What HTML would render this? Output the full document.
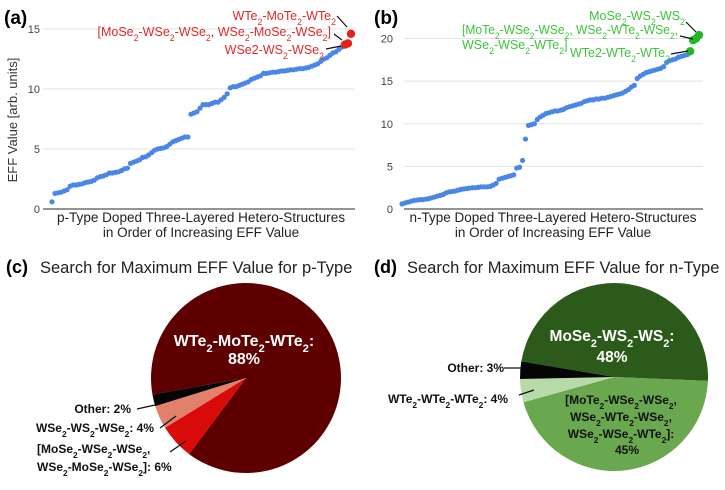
<!DOCTYPE html>
<html><head><meta charset="utf-8">
<style>
body{margin:0;background:#fff;}
svg{display:block;font-family:"Liberation Sans",Arial,sans-serif;}
.s{font-size:70%;}
.lab{font-weight:bold;font-size:12px;fill:#111;}
.tick{font-size:11px;fill:#444;}
</style></head>
<body>
<svg id="fig" width="725" height="490" viewBox="0 0 725 490">
  <!-- Panel a -->
  <g id="pa">
    <text x="4" y="24" font-size="19" font-weight="bold">(a)</text>
    <g id="pa-grid"></g>
    <text transform="translate(17,120) rotate(-90)" text-anchor="middle" font-size="13" fill="#333">EFF Value [arb. units]</text>
    <text x="201" y="222" text-anchor="middle" font-size="13.5" fill="#222" textLength="288" lengthAdjust="spacingAndGlyphs">p-Type Doped Three-Layered Hetero-Structures</text>
    <text x="201" y="237" text-anchor="middle" font-size="13.5" fill="#222">in Order of Increasing EFF Value</text>
    <g id="pa-pts"></g>
    <g fill="#e02828" font-size="12.5">
      <text x="336" y="20" text-anchor="end">WTe<tspan class="s" baseline-shift="sub">2</tspan>-MoTe<tspan class="s" baseline-shift="sub">2</tspan>-WTe<tspan class="s" baseline-shift="sub">2</tspan></text>
      <text x="331" y="36" text-anchor="end">[MoSe<tspan class="s" baseline-shift="sub">2</tspan>-WSe<tspan class="s" baseline-shift="sub">2</tspan>-WSe<tspan class="s" baseline-shift="sub">2</tspan>, WSe<tspan class="s" baseline-shift="sub">2</tspan>-MoSe<tspan class="s" baseline-shift="sub">2</tspan>-WSe<tspan class="s" baseline-shift="sub">2</tspan>]</text>
      <text x="324" y="54" text-anchor="end">WSe2-WS<tspan class="s" baseline-shift="sub">2</tspan>-WSe<tspan class="s" baseline-shift="sub">2</tspan></text>
    </g>
    <g stroke="#111" stroke-width="1.2">
      <line x1="337" y1="16" x2="347" y2="27"/>
      <line x1="334" y1="34" x2="342" y2="40"/>
      <line x1="326" y1="49" x2="341" y2="46"/>
    </g>
  </g>
  <!-- Panel b -->
  <g id="pb">
    <text x="374" y="24" font-size="19" font-weight="bold">(b)</text>
    <g id="pb-grid"></g>
    <text x="553" y="222" text-anchor="middle" font-size="13.5" fill="#222" textLength="287" lengthAdjust="spacingAndGlyphs">n-Type Doped Three-Layered Hetero-Structures</text>
    <text x="553" y="237" text-anchor="middle" font-size="13.5" fill="#222">in Order of Increasing EFF Value</text>
    <g id="pb-pts"></g>
    <g fill="#3cc43c" font-size="12.5">
      <text x="685" y="20" text-anchor="end">MoSe<tspan class="s" baseline-shift="sub">2</tspan>-WS<tspan class="s" baseline-shift="sub">2</tspan>-WS<tspan class="s" baseline-shift="sub">2</tspan></text>
      <text x="462" y="34" textLength="216" lengthAdjust="spacingAndGlyphs">[MoTe<tspan class="s" baseline-shift="sub">2</tspan>-WSe<tspan class="s" baseline-shift="sub">2</tspan>-WSe<tspan class="s" baseline-shift="sub">2</tspan>, WSe<tspan class="s" baseline-shift="sub">2</tspan>-WTe<tspan class="s" baseline-shift="sub">2</tspan>-WSe<tspan class="s" baseline-shift="sub">2</tspan>,</text>
      <text x="462" y="49">WSe<tspan class="s" baseline-shift="sub">2</tspan>-WSe<tspan class="s" baseline-shift="sub">2</tspan>-WTe<tspan class="s" baseline-shift="sub">2</tspan>]</text>
      <text x="670" y="57" text-anchor="end">WTe2-WTe<tspan class="s" baseline-shift="sub">2</tspan>-WTe<tspan class="s" baseline-shift="sub">2</tspan></text>
    </g>
    <g stroke="#111" stroke-width="1.2">
      <line x1="686" y1="22" x2="696" y2="32"/>
      <line x1="680" y1="36" x2="693" y2="39"/>
      <line x1="671" y1="54" x2="688" y2="51"/>
    </g>
  </g>
  <!-- Panel c -->
  <g id="pc">
    <text x="6" y="273" font-size="18" font-weight="bold">(c)</text>
    <text x="40" y="273" font-size="16.5" fill="#222">Search for Maximum EFF Value for p-Type</text>
    <g id="pc-slices"></g>
    <g fill="#fff" font-weight="bold" font-size="16" text-anchor="middle">
      <text x="244" y="346">WTe<tspan class="s" baseline-shift="sub">2</tspan>-MoTe<tspan class="s" baseline-shift="sub">2</tspan>-WTe<tspan class="s" baseline-shift="sub">2</tspan>:</text>
      <text x="244" y="364">88%</text>
    </g>
    <text class="lab" x="131" y="413" text-anchor="end">Other: 2%</text>
    <text class="lab" x="154" y="432" text-anchor="end">WSe<tspan class="s" baseline-shift="sub">2</tspan>-WS<tspan class="s" baseline-shift="sub">2</tspan>-WSe<tspan class="s" baseline-shift="sub">2</tspan>:  4%</text>
    <text class="lab" x="37" y="453">[MoSe<tspan class="s" baseline-shift="sub">2</tspan>-WSe<tspan class="s" baseline-shift="sub">2</tspan>-WSe<tspan class="s" baseline-shift="sub">2</tspan>,</text>
    <text class="lab" x="37" y="471">WSe<tspan class="s" baseline-shift="sub">2</tspan>-MoSe<tspan class="s" baseline-shift="sub">2</tspan>-WSe<tspan class="s" baseline-shift="sub">2</tspan>]: 6%</text>
    <g stroke="#111" stroke-width="1.3">
      <line x1="137" y1="409" x2="155" y2="405"/>
      <line x1="160" y1="428" x2="176" y2="416"/>
      <line x1="170" y1="452" x2="186" y2="441"/>
    </g>
  </g>
  <!-- Panel d -->
  <g id="pd">
    <text x="374" y="273" font-size="18" font-weight="bold">(d)</text>
    <text x="407" y="273" font-size="16.5" fill="#222">Search for Maximum EFF Value for n-Type</text>
    <g id="pd-slices"></g>
    <g fill="#fff" font-weight="bold" font-size="15.5" text-anchor="middle">
      <text x="612" y="341">MoSe<tspan class="s" baseline-shift="sub">2</tspan>-WS<tspan class="s" baseline-shift="sub">2</tspan>-WS<tspan class="s" baseline-shift="sub">2</tspan>:</text>
      <text x="612" y="362">48%</text>
    </g>
    <g class="lab" text-anchor="middle" font-size="12.5">
      <text x="621" y="404">[MoTe<tspan class="s" baseline-shift="sub">2</tspan>-WSe<tspan class="s" baseline-shift="sub">2</tspan>-WSe<tspan class="s" baseline-shift="sub">2</tspan>,</text>
      <text x="621" y="421">WSe<tspan class="s" baseline-shift="sub">2</tspan>-WTe<tspan class="s" baseline-shift="sub">2</tspan>-WSe<tspan class="s" baseline-shift="sub">2</tspan>,</text>
      <text x="621" y="438">WSe<tspan class="s" baseline-shift="sub">2</tspan>-WSe<tspan class="s" baseline-shift="sub">2</tspan>-WTe<tspan class="s" baseline-shift="sub">2</tspan>]:</text>
      <text x="627" y="454">45%</text>
    </g>
    <text class="lab" x="504" y="372" text-anchor="end">Other: 3%</text>
    <text class="lab" x="508" y="403" text-anchor="end">WTe<tspan class="s" baseline-shift="sub">2</tspan>-WTe<tspan class="s" baseline-shift="sub">2</tspan>-WTe<tspan class="s" baseline-shift="sub">2</tspan>: 4%</text>
    <g stroke="#111" stroke-width="1.3">
      <line x1="504" y1="368" x2="521" y2="368"/>
      <line x1="519" y1="395" x2="534" y2="390"/>
    </g>
  </g>
</svg>
<script>
// ---- data ----
const pBlue = [0.6,1.3,1.35,1.4,1.5,1.6,1.9,2.0,2.0,2.05,2.1,2.2,2.25,2.3,2.4,2.6,2.7,2.75,2.85,3.0,3.0,3.05,3.1,3.2,3.35,3.4,3.8,3.9,4.0,4.1,4.3,4.35,4.5,4.7,4.9,5.0,5.05,5.1,5.2,5.4,5.6,5.7,5.8,5.9,6.0,6.0,7.9,8.0,8.1,8.4,8.7,8.7,8.7,8.8,8.9,8.9,9.1,9.3,9.6,10.1,10.2,10.2,10.3,10.4,10.5,10.6,10.8,10.9,11.0,11.1,11.3,11.3,11.35,11.4,11.4,11.45,11.5,11.5,11.55,11.6,11.6,11.65,11.7,11.7,11.75,11.8,11.9,12.0,12.1,12.3,12.5,12.6,12.8,13.0,13.1,13.3,13.5];
const pRed = [13.7,13.8,14.6];
const pTicks = [0,5,10,15];
const nBlue = [0.6,0.7,0.8,0.9,1.0,1.05,1.1,1.1,1.15,1.2,1.3,1.4,1.5,1.6,1.7,1.9,2.0,2.05,2.1,2.2,2.3,2.35,2.4,2.45,2.5,2.5,2.55,2.6,2.6,2.6,2.65,2.8,3.0,3.5,3.6,3.7,3.8,3.9,4.0,4.8,4.9,5.7,8.2,9.8,9.9,10.0,10.5,10.8,11.0,11.2,11.3,11.4,11.5,11.5,11.6,11.7,11.9,12.0,12.1,12.2,12.3,12.4,12.6,12.7,12.8,12.8,12.9,12.9,13.0,13.0,13.1,13.2,13.3,13.4,13.5,13.6,13.8,14.0,14.3,14.5,15.3,15.6,15.8,16.0,16.1,16.2,16.3,16.4,16.5,16.7,17.2,17.4,17.5,17.6,17.8,17.9,18.0,18.1];
const nGreen = [18.5,19.8,20.0,20.4];
const nTicks = [0,5,10,15,20];
const pieCLabels = ["WTe2-MoTe2-WTe2","[MoSe2-WSe2-WSe2, WSe2-MoSe2-WSe2]","WSe2-WS2-WSe2","Other"];
const pieCValues = [88,6,4,2];
const pieDLabels = ["MoSe2-WS2-WS2","[MoTe2-WSe2-WSe2, ...]","WTe2-WTe2-WTe2","Other"];
const pieDValues = [48,45,4,3];

const NS = "http://www.w3.org/2000/svg";
function mk(tag, attrs, parent){const e=document.createElementNS(NS,tag);for(const k in attrs)e.setAttribute(k,attrs[k]);parent.appendChild(e);return e;}

function scatter(gridId, ptsId, blue, hi, hiColor, ticks, cfg){
  const grid=document.getElementById(gridId), pts=document.getElementById(ptsId);
  const y=v=>cfg.y0 - v*(cfg.y0-cfg.yTop)/cfg.vTop;
  const total=blue.length+hi.length;
  const x=i=>cfg.x0 + i*(cfg.x1-cfg.x0)/(total-1);
  ticks.forEach(t=>{
    const l=mk('line',{x1:cfg.gx0,x2:cfg.gx1,y1:y(t),y2:y(t),stroke:t===0?'#555':'#e2e2e2','stroke-width':t===0?1.2:1},grid);
    
    
    const tx=mk('text',{x:cfg.tx,y:y(t)+4,'text-anchor':'end',class:'tick'},grid);
    tx.textContent=t;
    
    
  });
  blue.forEach((v,i)=>{
    const c=mk('circle',{cx:x(i),cy:y(v),r:2.6,fill:'#4a86e8'},pts);
    
    
  });
  hi.forEach((v,j)=>{
    const c=mk('circle',{cx:x(blue.length+j),cy:y(v),r:4.2,fill:hiColor},pts);
    
    
  });
}
scatter('pa-grid','pa-pts',pBlue,pRed,'#e8201c',pTicks,{x0:52,x1:351,y0:209,yTop:29,vTop:15,gx0:43,gx1:355,tx:40});
scatter('pb-grid','pb-pts',nBlue,nGreen,'#22b822',nTicks,{x0:402,x1:699,y0:209,yTop:38.5,vTop:20,gx0:404,gx1:703,tx:393});

function pie(id, values, colors, cx, cy, r, startDeg){
  const g=document.getElementById(id);
  const tot=values.reduce((a,b)=>a+b,0);
  let a=startDeg*Math.PI/180;
  values.forEach((v,i)=>{
    const da=v/tot*2*Math.PI, b=a+da;
    const x1=cx+r*Math.cos(a), y1=cy+r*Math.sin(a), x2=cx+r*Math.cos(b), y2=cy+r*Math.sin(b);
    const p=mk('path',{d:`M${cx},${cy} L${x1},${y1} A${r},${r} 0 ${da>Math.PI?1:0} 1 ${x2},${y2} Z`,fill:colors[i]},g);
    
    
    a=b;
  });
}
pie('pc-slices',pieCValues,['#5e0000','#d80a0a','#e2806c','#050505'],246,378,95,170);
pie('pd-slices',pieDValues,['#2b5a1b','#6aa84f','#b8d9a8','#050505'],614,377,94,189.6);
</script>
</body></html>
